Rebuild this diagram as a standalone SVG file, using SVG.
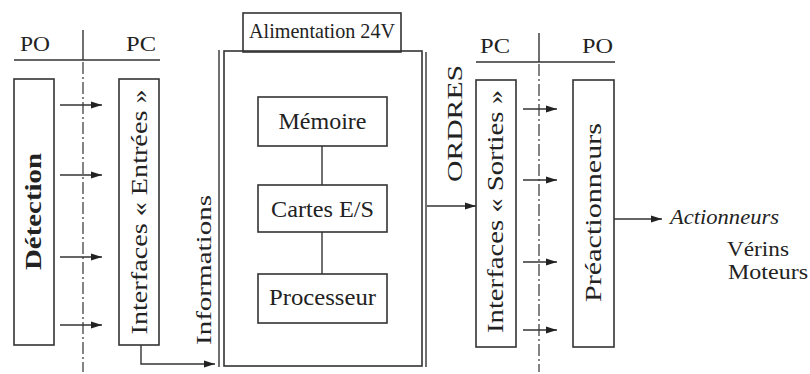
<svg xmlns="http://www.w3.org/2000/svg" width="810" height="374" viewBox="0 0 810 374">
<defs>
<marker id="ah" markerWidth="12" markerHeight="8" refX="11" refY="4" orient="auto" markerUnits="userSpaceOnUse">
<path d="M0,0.5 L11,4 L0,7.5 Z" fill="#222"/>
</marker>
<style>
text{font-family:'Liberation Serif','DejaVu Serif',serif;fill:#222;}
.box{fill:none;stroke:#333;stroke-width:1.6;}
.ln{fill:none;stroke:#333;stroke-width:1.4;}
.dd{fill:none;stroke:#333;stroke-width:1.2;stroke-dasharray:12 3 2 3;}
.ar{fill:none;stroke:#333;stroke-width:1.4;marker-end:url(#ah);}
</style>
</defs>
<rect width="810" height="374" fill="#fff"/>

<g id="left-header" font-family="Liberation Serif, DejaVu Serif, serif">
<text x="20" y="51" font-size="22" textLength="30" lengthAdjust="spacingAndGlyphs">PO</text>
<text x="126" y="51" font-size="22" textLength="30" lengthAdjust="spacingAndGlyphs">PC</text>
<line class="ln" x1="14" y1="60" x2="160" y2="60" stroke-width="1.8"/>
<line class="ln" x1="83" y1="30" x2="83" y2="60"/>
<line class="dd" x1="83" y1="62" x2="83" y2="372"/>
</g>

<g id="detection">
<rect class="box" x="14" y="79" width="40" height="266"/>
<text transform="translate(41,211.5) rotate(-90)" text-anchor="middle" font-size="24" font-weight="bold" textLength="117" lengthAdjust="spacingAndGlyphs">Détection</text>
</g>

<g id="interfaces-entrees">
<rect class="box" x="119" y="79" width="40" height="266"/>
<text transform="translate(147,212) rotate(-90)" text-anchor="middle" font-size="24" textLength="245" lengthAdjust="spacingAndGlyphs">Interfaces « Entrées »</text>
</g>

<g id="informations">
<text transform="translate(211,270) rotate(-90)" text-anchor="middle" font-size="22" textLength="150" lengthAdjust="spacingAndGlyphs">Informations</text>
</g>

<g id="alimentation">
<rect class="box" x="243" y="13" width="158" height="39"/>
<text x="322" y="38" text-anchor="middle" font-size="22" textLength="146" lengthAdjust="spacingAndGlyphs">Alimentation 24V</text>
</g>

<g id="automate">
<line class="ln" x1="219" y1="50" x2="219" y2="367"/>
<rect class="box" x="224" y="51" width="198" height="315"/>
<line class="ln" x1="426" y1="52" x2="426" y2="367"/>
</g>

<g id="memoire">
<rect class="box" x="258" y="97" width="129" height="49"/>
<text x="322.5" y="129" text-anchor="middle" font-size="24" textLength="88" lengthAdjust="spacingAndGlyphs">Mémoire</text>
</g>

<g id="cartes">
<rect class="box" x="258" y="185" width="129" height="47"/>
<text x="322.5" y="217" text-anchor="middle" font-size="24" textLength="103" lengthAdjust="spacingAndGlyphs">Cartes E/S</text>
</g>

<g id="processeur">
<rect class="box" x="258" y="274" width="129" height="49"/>
<text x="322.5" y="305" text-anchor="middle" font-size="24" textLength="107" lengthAdjust="spacingAndGlyphs">Processeur</text>
</g>

<g id="ordres">
<text transform="translate(462,123.5) rotate(-90)" text-anchor="middle" font-size="22" textLength="117" lengthAdjust="spacingAndGlyphs">ORDRES</text>
</g>

<g id="right-header">
<text x="480" y="53" font-size="22" textLength="30" lengthAdjust="spacingAndGlyphs">PC</text>
<text x="582" y="53" font-size="22" textLength="31" lengthAdjust="spacingAndGlyphs">PO</text>
<line class="ln" x1="476" y1="62" x2="615" y2="62" stroke-width="1.8"/>
<line class="ln" x1="539" y1="33" x2="539" y2="62"/>
<line class="dd" x1="539" y1="64" x2="539" y2="372"/>
</g>

<g id="interfaces-sorties">
<rect class="box" x="476" y="80" width="40" height="267"/>
<text transform="translate(503,211.5) rotate(-90)" text-anchor="middle" font-size="24" textLength="243" lengthAdjust="spacingAndGlyphs">Interfaces « Sorties »</text>
</g>

<g id="preactionneurs">
<rect class="box" x="573" y="80" width="41" height="267"/>
<text transform="translate(601,212.5) rotate(-90)" text-anchor="middle" font-size="24" textLength="179" lengthAdjust="spacingAndGlyphs">Préactionneurs</text>
</g>

<g id="actionneurs">
<text x="670" y="224" font-size="22" font-style="italic" textLength="109" lengthAdjust="spacingAndGlyphs">Actionneurs</text>
<text x="727" y="256" font-size="20" textLength="62" lengthAdjust="spacingAndGlyphs">Vérins</text>
<text x="728" y="279" font-size="20" textLength="80" lengthAdjust="spacingAndGlyphs">Moteurs</text>
</g>

<g id="connectors">
<line class="ar" x1="60" y1="105" x2="102" y2="105"/>
<line class="ar" x1="60" y1="175" x2="102" y2="175"/>
<line class="ar" x1="60" y1="257" x2="102" y2="257"/>
<line class="ar" x1="60" y1="325" x2="102" y2="325"/>
<polyline class="ar" points="141,345 141,364 215,364"/>
<line class="ln" x1="322" y1="146" x2="322" y2="185"/>
<line class="ln" x1="322" y1="232" x2="322" y2="274"/>
<line class="ar" x1="427" y1="206" x2="476" y2="206"/>
<line class="ar" x1="523" y1="109" x2="557" y2="109"/>
<line class="ar" x1="523" y1="180" x2="557" y2="180"/>
<line class="ar" x1="523" y1="262" x2="557" y2="262"/>
<line class="ar" x1="523" y1="330" x2="557" y2="330"/>
<line class="ar" x1="614" y1="219" x2="662" y2="219"/>
</g>
</svg>
